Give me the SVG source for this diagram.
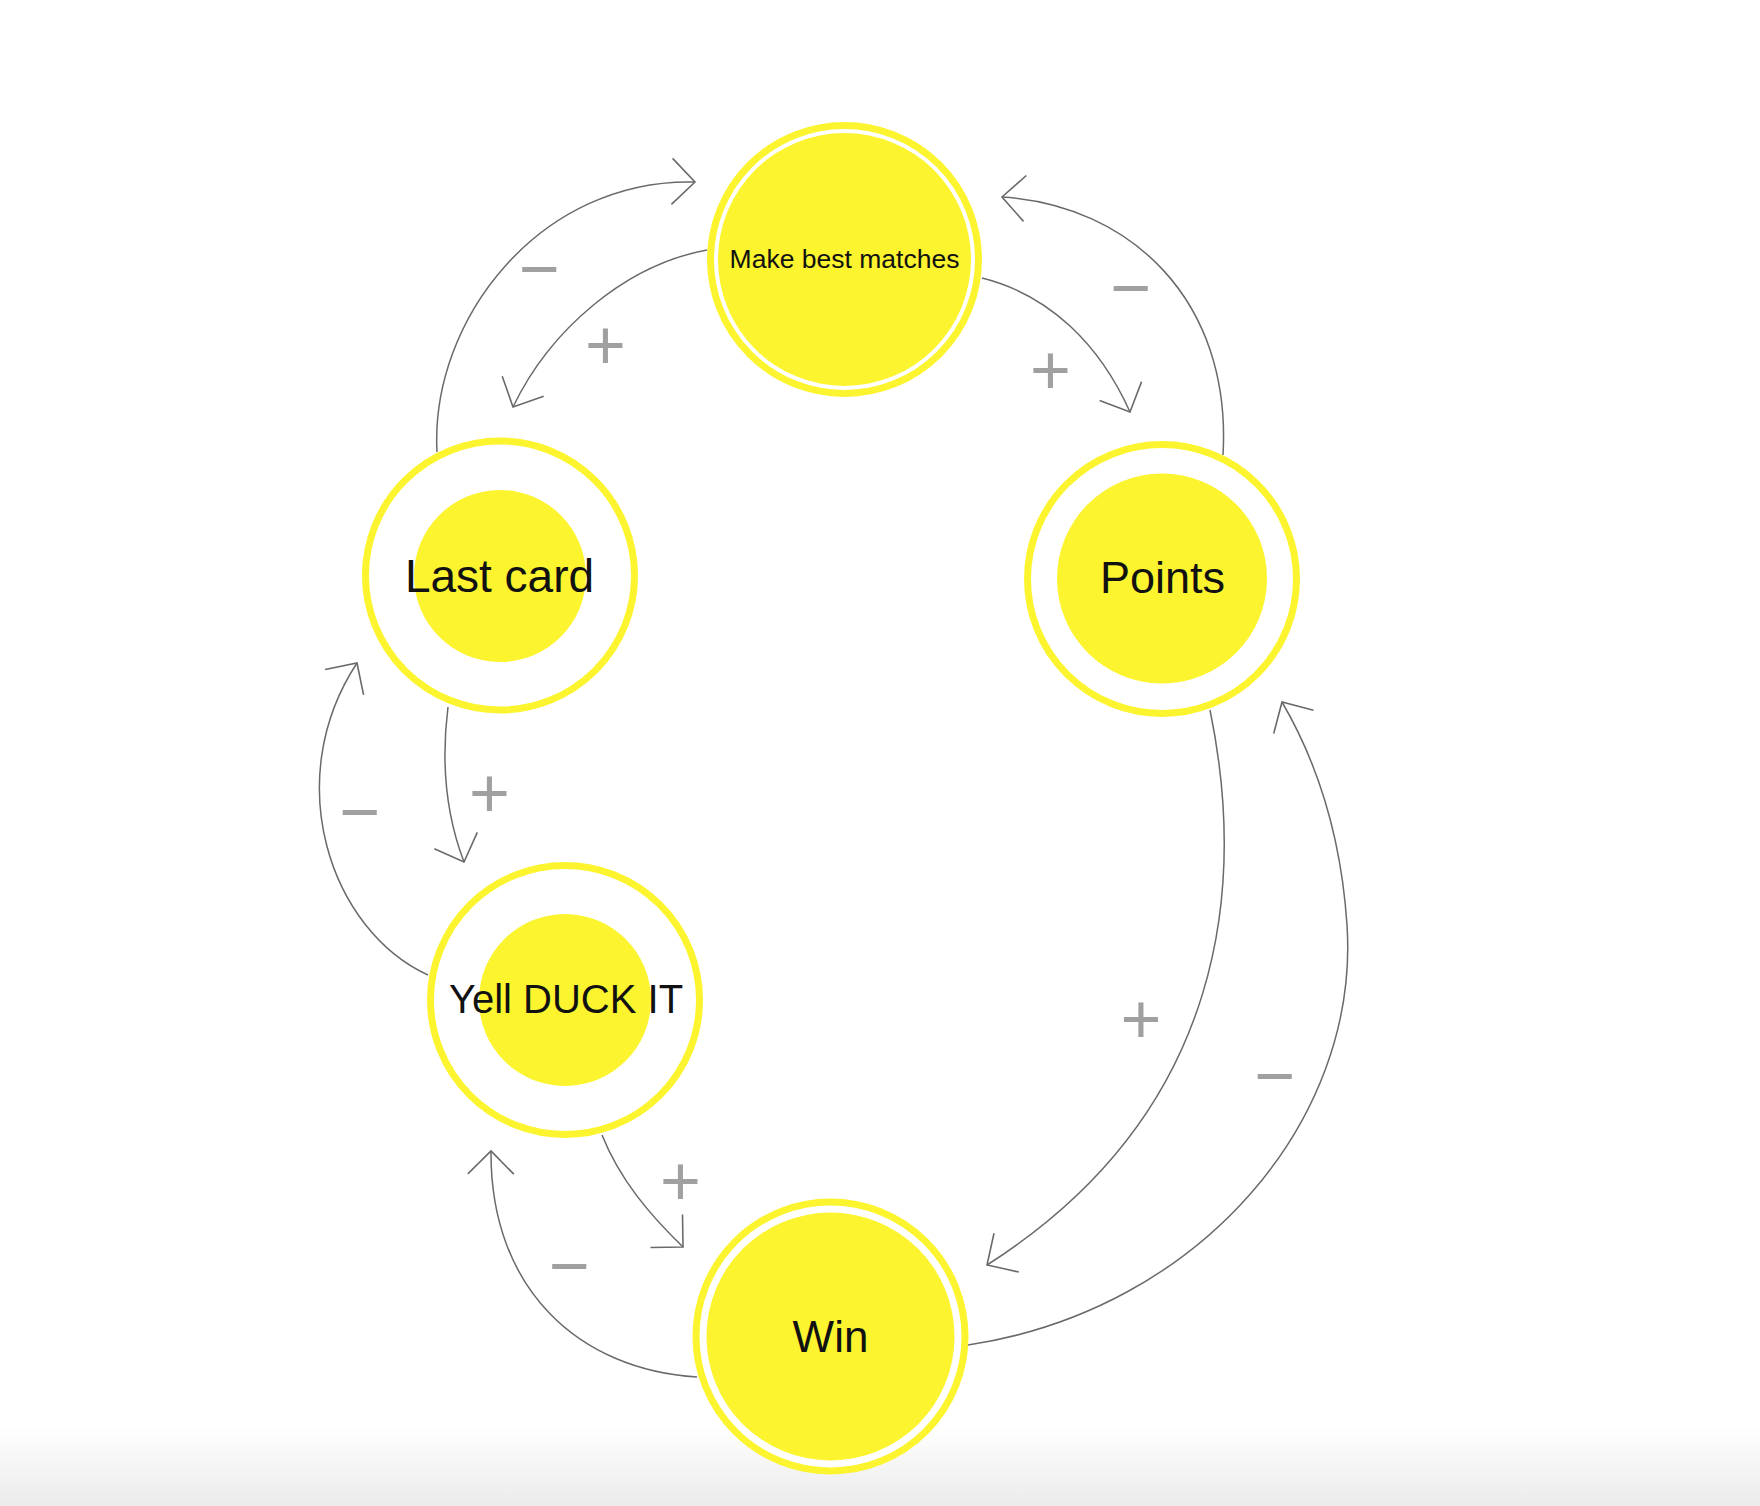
<svg xmlns="http://www.w3.org/2000/svg" width="1760" height="1506" viewBox="0 0 1760 1506">
  <defs>
    <linearGradient id="floor" x1="0" y1="0" x2="0" y2="1">
      <stop offset="0" stop-color="#ffffff"/>
      <stop offset="1" stop-color="#ebebeb"/>
    </linearGradient>
    <marker id="arrow" markerUnits="userSpaceOnUse" markerWidth="60" markerHeight="60" viewBox="-30 -30 60 60" refX="0" refY="0" orient="auto" overflow="visible">
      <path d="M-23,-23 L0,0 L-23,23" fill="none" stroke="#6a6a6a" stroke-width="1.6"/>
    </marker>
    <style>
      .ring { fill: #ffffff; stroke: #fbf42e; stroke-width: 7; }
      .core { fill: #fbf42e; }
      .label { font-family: "Liberation Sans", Arial, Helvetica, sans-serif; fill: #111111; text-anchor: middle; }
      .conn { fill: none; stroke: #6a6a6a; stroke-width: 1.5; marker-end: url(#arrow); }
      .sign { font-family: "Liberation Sans", Arial, sans-serif; font-size: 70px; fill: #a0a0a0; text-anchor: middle; }
    </style>
  </defs>
  <rect x="0" y="0" width="1760" height="1506" fill="#ffffff"/>
  <rect x="0" y="1425" width="1760" height="81" fill="url(#floor)"/>

  <g id="connectors">
    <path id="c1" class="conn" d="M437,452 C430,320 540,178 695,182"/>
    <path id="c2" class="conn" d="M707,250 C625,265 550,330 513,407"/>
    <path id="c3" class="conn" d="M982,278 C1050,295 1100,345 1130,412"/>
    <path id="c4" class="conn" d="M1223,455 C1232,300 1130,205 1002,197"/>
    <path id="c5" class="conn" d="M448,707 C440,770 448,820 464,862"/>
    <path id="c6" class="conn" d="M428,975 C330,930 280,780 357,663"/>
    <path id="c7" class="conn" d="M1210,710 C1245,880 1230,1110 987,1265"/>
    <path id="c8" class="conn" d="M968,1345 C1200,1310 1360,1120 1347,925 C1340,820 1310,750 1282,702"/>
    <path id="c9" class="conn" d="M602,1135 C620,1180 650,1215 683,1247"/>
    <path id="c10" class="conn" d="M697,1377 C580,1370 490,1290 491,1151"/>
    <g id="signs">
      <text class="sign" x="539.5" y="293">−</text>
      <text class="sign" x="605.5" y="369">+</text>
      <text class="sign" x="1131" y="312">−</text>
      <text class="sign" x="1050.5" y="394">+</text>
      <text class="sign" x="489.5" y="817">+</text>
      <text class="sign" x="360" y="836">−</text>
      <text class="sign" x="1141" y="1043">+</text>
      <text class="sign" x="1275" y="1100">−</text>
      <text class="sign" x="680.5" y="1205">+</text>
      <text class="sign" x="569.5" y="1290">−</text>
    </g>
  </g>

  <g id="node-make-best-matches">
    <circle class="ring" cx="844.5" cy="259.5" r="134"/>
    <circle class="core" cx="844.5" cy="259.5" r="126.5"/>
    <text class="label" x="844.5" y="268" font-size="26.5">Make best matches</text>
  </g>
  <g id="node-last-card">
    <circle class="ring" cx="500" cy="575.5" r="134.5"/>
    <circle class="core" cx="500" cy="576" r="86"/>
    <text class="label" x="499.5" y="592" font-size="46">Last card</text>
  </g>
  <g id="node-points">
    <circle class="ring" cx="1162" cy="579" r="134.5"/>
    <circle class="core" cx="1162" cy="578.5" r="105"/>
    <text class="label" x="1162.5" y="593" font-size="45">Points</text>
  </g>
  <g id="node-yell-duck-it">
    <circle class="ring" cx="565" cy="1000" r="134.5"/>
    <circle class="core" cx="565" cy="1000" r="86"/>
    <text class="label" x="566" y="1013" font-size="40">Yell DUCK IT</text>
  </g>
  <g id="node-win">
    <circle class="ring" cx="830.5" cy="1336.5" r="134.5"/>
    <circle class="core" cx="830.5" cy="1336.5" r="124"/>
    <text class="label" x="830.5" y="1352" font-size="44">Win</text>
  </g>
</svg>
